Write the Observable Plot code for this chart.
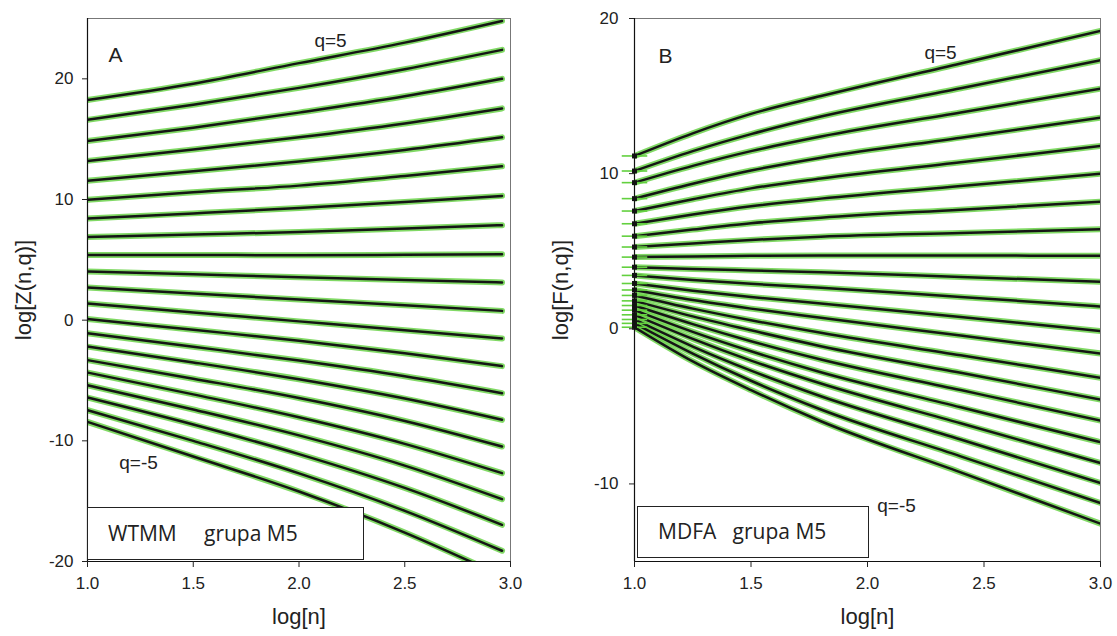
<!DOCTYPE html>
<html>
<head>
<meta charset="utf-8">
<script src="https://cdn.jsdelivr.net/npm/d3@7"></script>
<script src="https://cdn.jsdelivr.net/npm/@observablehq/plot@0.6"></script>
<style>
  html, body { margin: 0; padding: 0; background: #fff; }
  #fig { position: relative; width: 1117px; height: 636px; overflow: hidden; font-family: "Liberation Sans", Arial, sans-serif; }
  .panel { position: absolute; top: 0; }
  .box { position: absolute; box-sizing: border-box; border: 1.6px solid #222; background: #fff;
         font-family: "Open Sans", sans-serif; font-size: 21px; color: #222; white-space: pre; }
</style>
</head>
<body>
<div id="fig">
  <div id="pa" class="panel" style="left:0px"></div>
  <div id="pb" class="panel" style="left:540px"></div>
  <div class="box" style="left:87px; top:507px; width:277px; height:53px; padding-left:20px; line-height:50px;">WTMM     grupa M5</div>
  <div class="box" style="left:637px; top:506px; width:232px; height:52px; padding-left:20px; line-height:49px;">MDFA   grupa M5</div>
</div>
<script>
// ---------- data ----------
const qValues = [5, 4.5, 4, 3.5, 3, 2.5, 2, 1.5, 1, 0.5, 0, -0.5, -1, -1.5, -2, -2.5, -3, -3.5, -4, -4.5, -5];
const xTicks = [1.0, 1.5, 2.0, 2.5, 3.0];

// Panel A (WTMM): log[Z(n,q)] at log[n] positions
const xA = [1.0, 1.5, 2.0, 2.5, 2.96];
const zA = [
  [18.25, 19.6, 21.3, 23.0, 24.8],
  [16.6, 17.85, 19.25, 20.8, 22.4],
  [14.85, 15.95, 17.2, 18.55, 20.0],
  [13.2, 14.15, 15.15, 16.3, 17.55],
  [11.55, 12.35, 13.15, 14.1, 15.15],
  [9.97, 10.6, 11.15, 11.95, 12.75],
  [8.42, 8.85, 9.3, 9.8, 10.3],
  [6.9, 7.1, 7.3, 7.6, 7.87],
  [5.41, 5.4, 5.38, 5.42, 5.47],
  [4.03, 3.8, 3.55, 3.32, 3.12],
  [2.7, 2.2, 1.72, 1.23, 0.77],
  [1.38, 0.64, -0.1, -0.84, -1.52],
  [0.1, -0.8, -1.7, -2.75, -3.81],
  [-1.08, -2.2, -3.35, -4.65, -6.05],
  [-2.19, -3.5, -4.9, -6.5, -8.26],
  [-3.31, -4.85, -6.45, -8.35, -10.47],
  [-4.34, -6.15, -8.05, -10.25, -12.68],
  [-5.39, -7.4, -9.55, -12.05, -14.83],
  [-6.41, -8.65, -11.1, -13.9, -16.96],
  [-7.46, -10.0, -12.7, -15.8, -19.11],
  [-8.43, -11.3, -14.2, -17.6, -21.2]
];
const yTicksA = [-20, -10, 0, 10, 20];
const yDomainA = [-20, 25];

// Panel B (MDFA): log[F(n,q)] at log[n] positions
const xB = [1.0, 1.25, 1.5, 1.8, 2.4, 3.0];
const fB = [
  [11.14, 12.6, 13.85, 15.0, 17.1, 19.2],
  [10.17, 11.45, 12.55, 13.68, 15.5, 17.31],
  [9.42, 10.5, 11.45, 12.39, 13.94, 15.48],
  [8.39, 9.35, 10.2, 11.03, 12.32, 13.61],
  [7.59, 8.35, 9.05, 9.68, 10.73, 11.78],
  [6.77, 7.37, 7.9, 8.39, 9.2, 10.0],
  [5.97, 6.4, 6.8, 7.16, 7.68, 8.19],
  [5.27, 5.5, 5.73, 5.94, 6.18, 6.41],
  [4.62, 4.66, 4.7, 4.73, 4.72, 4.71],
  [3.97, 3.86, 3.76, 3.65, 3.34, 3.03],
  [3.44, 3.15, 2.9, 2.65, 2.05, 1.44],
  [2.92, 2.45, 2.05, 1.63, 0.76, -0.15],
  [2.5, 1.85, 1.3, 0.71, -0.44, -1.59],
  [2.15, 1.3, 0.55, -0.26, -1.71, -3.16],
  [1.8, 0.8, -0.1, -1.12, -2.84, -4.56],
  [1.5, 0.3, -0.8, -1.98, -3.95, -5.92],
  [1.2, -0.2, -1.45, -2.8, -5.06, -7.31],
  [0.9, -0.65, -2.05, -3.53, -6.09, -8.65],
  [0.6, -1.15, -2.7, -4.35, -7.14, -9.94],
  [0.35, -1.6, -3.35, -5.2, -8.22, -11.23],
  [0.1, -2.1, -3.95, -5.96, -9.26, -12.56]
];
const yTicksB = [-10, 0, 10, 20];
const yDomainB = [-15, 20];

// ---------- build tables ----------
function rows(xs, table) {
  const out = [];
  table.forEach((vals, i) => vals.forEach((v, j) => out.push({q: qValues[i], x: xs[j], y: v})));
  return out;
}
const rowsA = rows(xA, zA);
const rowsB = rows(xB, fB);

const GREEN = "#62d03e";
const fmtX = d3.format(".1f");
const fmtY = d => String(d);
// horizontal error-bar symbol
const hbar = {draw(ctx, size) { const w = Math.sqrt(size) * 1.2; ctx.moveTo(-w, 0); ctx.lineTo(w, 0); }};

function panel(opts) {
  const {data, width, marginLeft, marginRight, yDomain, yTicks, yLabel, letter, labels, labelOffset, tickPadY, dots} = opts;
  const marks = [
    Plot.line(data, {x: "x", y: "y", z: "q", stroke: GREEN, strokeWidth: 6, strokeOpacity: 0.8, curve: "monotone-x", clip: true}),
    Plot.line(data, {x: "x", y: "y", z: "q", stroke: "#151515", strokeWidth: 2.5, curve: "monotone-x", clip: true})
  ];
  if (dots) {
    const first = data.filter(d => d.x === xB[0]);
    marks.push(
      Plot.dot(first, {x: "x", y: "y", symbol: hbar, r: 6, stroke: GREEN, strokeWidth: 1.6}),
      Plot.dot(first, {x: "x", y: "y", symbol: "square", r: 2.8, fill: "#151515"})
    );
  }
  marks.push(
    Plot.frame({stroke: "#777", strokeWidth: 1}),
    Plot.ruleX([xTicks[0]], {stroke: "#111", strokeWidth: 1.2}),
    Plot.ruleY([yDomain[0]], {stroke: "#111", strokeWidth: 1.2}),
    Plot.axisX({ticks: xTicks, tickFormat: fmtX, tickSize: 6, tickPadding: 9, fontSize: 17,
                label: "log[n]", labelAnchor: "center", labelArrow: "none", labelOffset: 62}),
    Plot.axisY({ticks: yTicks, tickFormat: fmtY, tickSize: 5, tickPadding: tickPadY, fontSize: 17,
                label: yLabel, labelAnchor: "center", labelArrow: "none", labelOffset: labelOffset}),
    Plot.text([letter.text], {frameAnchor: "top-left", dx: letter.dx, dy: letter.dy, lineAnchor: "middle", fontSize: 21, fill: "#222", textAnchor: "start"}),
    ...labels.map(l => Plot.text([l.text], {frameAnchor: "top-left", dx: l.dx, dy: l.dy, lineAnchor: "middle", fontSize: 19, fill: "#222", textAnchor: "middle"}))
  );
  return Plot.plot({
    width, height: 636,
    marginLeft, marginRight, marginTop: 18, marginBottom: 75,
    style: {fontFamily: "'Liberation Sans', Arial, sans-serif", fontSize: "17px", color: "#222", background: "transparent", overflow: "visible"},
    x: {domain: [1, 3]},
    y: {domain: yDomain},
    marks
  });
}

const plotA = panel({
  data: rowsA, width: 540, marginLeft: 87, marginRight: 30,
  yDomain: yDomainA, yTicks: yTicksA, yLabel: "log[Z(n,q)]", labelOffset: 72, tickPadY: 9,
  letter: {text: "A", dx: 21, dy: 37},
  labels: [{text: "q=5", dx: 243, dy: 22}, {text: "q=-5", dx: 51, dy: 444}],
  dots: false
});
const plotB = panel({
  data: rowsB, width: 577, marginLeft: 94, marginRight: 17,
  yDomain: yDomainB, yTicks: yTicksB, yLabel: "log[F(n,q)]", labelOffset: 82, tickPadY: 11,
  letter: {text: "B", dx: 24, dy: 38},
  labels: [{text: "q=5", dx: 306, dy: 34}, {text: "q=-5", dx: 262, dy: 487}],
  dots: true
});

// bigger axis titles
for (const p of [plotA, plotB]) {
  p.querySelectorAll("g[aria-label='x-axis label'] text, g[aria-label='y-axis label'] text")
   .forEach(t => t.setAttribute("font-size", "22"));
}
document.getElementById("pa").appendChild(plotA);
document.getElementById("pb").appendChild(plotB);
</script>
</body>
</html>
